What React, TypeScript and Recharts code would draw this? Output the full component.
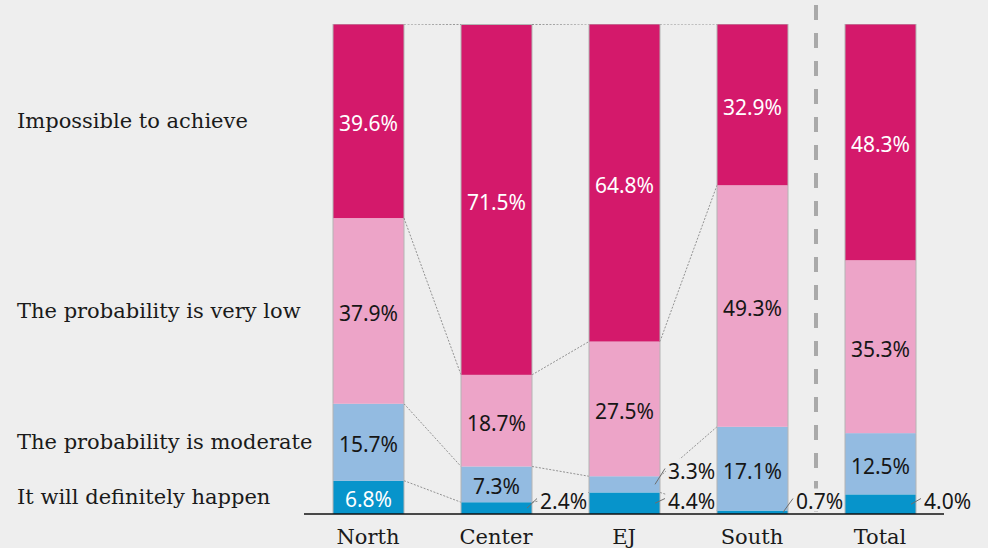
import React from "react";
import { BarChart, Bar, XAxis, YAxis, LabelList, ReferenceLine } from "recharts";

const categories = ["North", "Center", "EJ", "South", "Total"];
// bars of the same group get dotted connectors between them
const groups = ["region", "region", "region", "region", "total"];

const definitely = [6.8, 2.4, 4.4, 0.7, 4.0];
const moderate = [15.7, 7.3, 3.3, 17.1, 12.5];
const veryLow = [37.9, 18.7, 27.5, 49.3, 35.3];
const impossible = [39.6, 71.5, 64.8, 32.9, 48.3];

const seriesNames = [
  "It will definitely happen",
  "The probability is moderate",
  "The probability is very low",
  "Impossible to achieve",
];
const seriesValues = [definitely, moderate, veryLow, impossible];
const colors = ["#0794cb", "#93bbe1", "#eda4c8", "#d4196b"];
const textColors = ["#ffffff", "#161616", "#161616", "#ffffff"];

const data = categories.map((name, i) => ({
  name,
  s0: definitely[i],
  s1: moderate[i],
  s2: veryLow[i],
  s3: impossible[i],
}));

const BG = "#eeeeee";
const SERIF = "'DejaVu Serif', serif";
const SANS = "'Noto Sans', sans-serif";
const SMALL = 5; // below this the value goes outside, with a leader

const cumTo = (s: number, i: number) => {
  let t = 0;
  for (let k = 0; k <= s; k++) t += seriesValues[k][i];
  return t;
};

// pixel scale recovered from a rendered segment
function geom(s: number, i: number, y: number, height: number) {
  const v = seriesValues[s][i];
  const ppu = height / v;
  const bottom = y + height + (cumTo(s, i) - v) * ppu;
  return { ppu, bottom };
}

function outsideY(s: number, i: number, ppu: number, bottom: number): number {
  const v = seriesValues[s][i];
  const center = bottom - (cumTo(s, i) - v / 2) * ppu;
  let ly = Math.min(center, bottom - 14.5);
  if (s > 0 && seriesValues[s - 1][i] < SMALL) {
    ly = Math.min(ly, outsideY(s - 1, i, ppu, bottom) - 30);
  }
  return ly;
}

const barRight: number[] = [];

const makeShape = (s: number) => (props: any) => {
  const { x, y, width, height, index } = props;
  barRight[index] = x + width;
  const { ppu, bottom } = geom(s, index, y, height);
  const linked =
    index > 0 && groups[index] === groups[index - 1] && barRight[index - 1] != null;
  const prevTop = linked ? bottom - cumTo(s, index - 1) * ppu : 0;
  return (
    <g>
      {linked && (
        <line
          x1={barRight[index - 1]}
          y1={prevTop}
          x2={x}
          y2={y}
          stroke="#7a7a7a"
          strokeWidth={0.8}
          strokeDasharray="2 1.5"
        />
      )}
      <rect x={x} y={y} width={width} height={height} fill={colors[s]} />
      <line x1={x} y1={y} x2={x} y2={y + height} stroke="#b4b4b4" strokeWidth={1} />
      <line x1={x + width} y1={y} x2={x + width} y2={y + height} stroke="#b4b4b4" strokeWidth={1} />
      {s === seriesValues.length - 1 && (
        <line x1={x} y1={y} x2={x + width} y2={y} stroke="#b4b4b4" strokeWidth={1} />
      )}
    </g>
  );
};

const makeLabel = (s: number) => (props: any) => {
  const vb = props.viewBox ?? props;
  const { x, y, width, height } = vb;
  const index: number = props.index;
  const v = seriesValues[s][index];
  const txt = `${v.toFixed(1)}%`;
  const cy = y + height / 2;
  const side =
    index === 0 ? (
      <text
        x={17}
        y={cy}
        dominantBaseline="central"
        fontFamily={SERIF}
        fontSize={21}
        fill="#1a1a1a"
      >
        {seriesNames[s]}
      </text>
    ) : null;

  if (v >= SMALL) {
    return (
      <g>
        {side}
        <text
          x={x + width / 2}
          y={cy + 2}
          textAnchor="middle"
          dominantBaseline="central"
          fontFamily={SANS}
          fontSize={21}
          fill={textColors[s]}
        >
          {txt}
        </text>
      </g>
    );
  }
  const { ppu, bottom } = geom(s, index, y, height);
  const ly = outsideY(s, index, ppu, bottom);
  const tx = x + width + 8;
  const tw = txt.length * 11.5 + 4;
  return (
    <g>
      {side}
      <rect x={tx - 2} y={ly - 11} width={tw} height={23} fill={BG} />
      <line x1={x + width - 5} y1={cy} x2={x + width + 5} y2={ly - 1} stroke="#6e6e6e" strokeWidth={1} />
      <text
        x={tx}
        y={ly + 1}
        dominantBaseline="central"
        fontFamily={SANS}
        fontSize={21}
        fill="#161616"
      >
        {txt}
      </text>
    </g>
  );
};

const CategoryTick = (props: any) => {
  const { x, y, payload } = props;
  return (
    <text
      x={x}
      y={y}
      dy={23}
      textAnchor="middle"
      dominantBaseline="central"
      fontFamily={SERIF}
      fontSize={21}
      fill="#1a1a1a"
    >
      {payload.value}
    </text>
  );
};

const Divider = (props: any) => {
  const { x1, y1, x2, y2 } = props;
  const top = Math.min(y1, y2);
  const bot = Math.max(y1, y2);
  return (
    <line
      x1={x1}
      x2={x2}
      y1={top - 19}
      y2={bot - 2}
      stroke="#a9a9a9"
      strokeWidth={4}
      strokeDasharray="15 13"
    />
  );
};

export default function App() {
  return (
    <div
      style={{ position: "absolute", left: 0, top: 0, width: 988, height: 548, background: BG }}
    >
      <BarChart
        width={988}
        height={548}
        data={data}
        margin={{ top: 24, right: 44, bottom: 0, left: 304 }}
        barSize={71}
      >
        <XAxis
          dataKey="name"
          height={34}
          interval={0}
          axisLine={{ stroke: "#111", strokeWidth: 1.5 }}
          tickLine={false}
          tickSize={0}
          tickMargin={0}
          tick={<CategoryTick />}
        />
        <YAxis hide type="number" domain={[0, 100]} allowDataOverflow />
        {seriesValues.map((_, s) => (
          <Bar
            key={s}
            dataKey={`s${s}`}
            stackId="a"
            isAnimationActive={false}
            shape={makeShape(s)}
          >
            <LabelList dataKey={`s${s}`} content={makeLabel(s)} />
          </Bar>
        ))}
        <ReferenceLine x="Total" position="start" shape={<Divider />} />
      </BarChart>
    </div>
  );
}
